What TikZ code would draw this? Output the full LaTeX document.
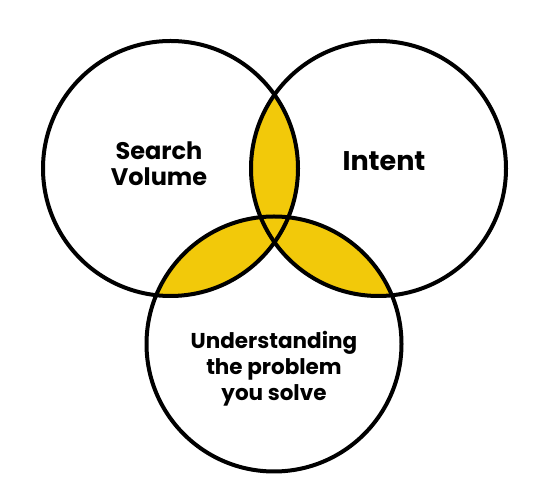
\documentclass[tikz,border=0pt]{standalone}
\usepackage{fontspec}
\usepackage{xcolor}
\usepackage{tikz}
\usetikzlibrary{positioning}
\setmainfont{Poppins}
\definecolor{lensyellow}{RGB}{242,201,10}

\tikzset{
  ring/.style={draw=black, line width=4pt},
  ringlabel/.style={align=center, font=\bfseries\fontsize{24}{26}\selectfont, inner sep=0pt}
}

\begin{document}
\begin{tikzpicture}[x=1pt, y=1pt]
  \useasboundingbox (0,0) rectangle (549,500);

  % Circle centres
  \coordinate (cS) at (170.5,331.5);
  \coordinate (cI) at (378.5,331.5);
  \coordinate (cU) at (274,156);
  \def\rr{127.5}

  % Overlaps
  \begin{scope}
    \clip (cS) circle (\rr);
    \fill[lensyellow] (cI) circle (\rr);
    \fill[lensyellow] (cU) circle (\rr);
  \end{scope}
  \begin{scope}
    \clip (cI) circle (\rr);
    \fill[lensyellow] (cU) circle (\rr);
  \end{scope}

  % Outlines
  \draw[ring] (cS) circle (\rr);
  \draw[ring] (cI) circle (\rr);
  \draw[ring] (cU) circle (\rr);

  % Labels
  \node[ringlabel] (search) at (159,336) {Search\\Volume};
  \node[ringlabel, font=\bfseries\fontsize{27}{28}\selectfont] (intent) at (384,339) {Intent};
  \node[ringlabel, font=\bfseries\fontsize{21.5}{26}\selectfont] (problem) at (274,131) {Understanding\\the problem\\you solve};
\end{tikzpicture}
\end{document}
